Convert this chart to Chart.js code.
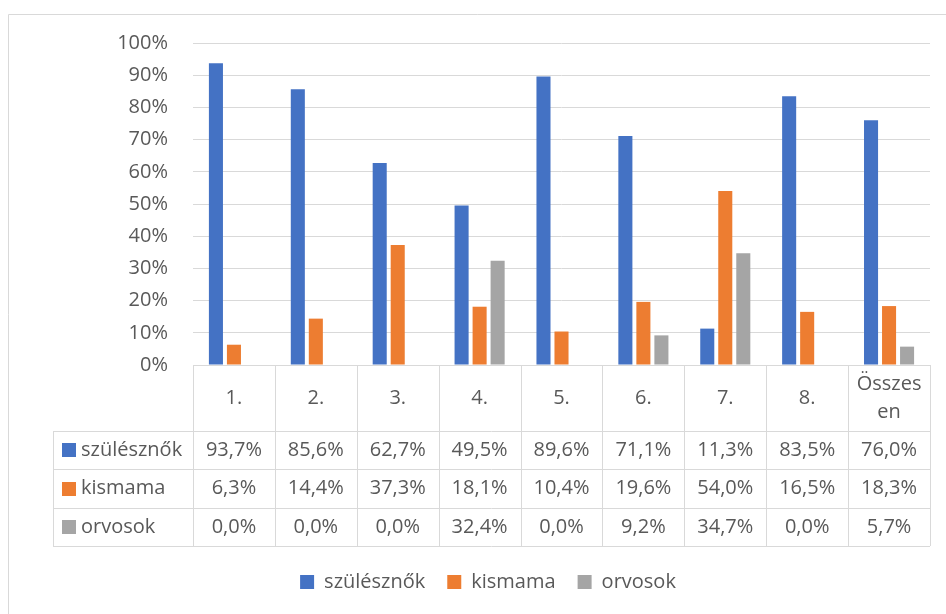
<!DOCTYPE html>
<html>
<head>
<meta charset="utf-8">
<script src="https://cdn.jsdelivr.net/npm/chart.js@4"></script>
<style>
  html, body { margin: 0; padding: 0; background: #fff; }
  #wrap { position: relative; width: 946px; height: 614px; }
</style>
</head>
<body>
<div id="wrap"><canvas id="chart" width="946" height="614"></canvas></div>
<script>
const categories = ['1.', '2.', '3.', '4.', '5.', '6.', '7.', '8.', 'Összesen'];
const szulesznok = [93.7, 85.6, 62.7, 49.5, 89.6, 71.1, 11.3, 83.5, 76.0];
const kismama = [6.3, 14.4, 37.3, 18.1, 10.4, 19.6, 54.0, 16.5, 18.3];
const orvosok = [0.0, 0.0, 0.0, 32.4, 0.0, 9.2, 34.7, 0.0, 5.7];
const yTicks = [0, 10, 20, 30, 40, 50, 60, 70, 80, 90, 100];

const textColor = '#595959';
const lineColor = '#d9d9d9';
const fontFamily = "'Open Sans', sans-serif";
const fontSize = 20;

const fmt = v => v.toFixed(1).replace('.', ',') + '%';

// wrap a label by characters when it is wider than the cell
function wrapText(c, text, maxW) {
  if (c.measureText(text).width <= maxW) return [text];
  const lines = [];
  let cur = '';
  for (const ch of text) {
    if (cur && c.measureText(cur + ch).width > maxW) {
      lines.push(cur);
      cur = ch;
    } else {
      cur += ch;
    }
  }
  if (cur) lines.push(cur);
  return lines;
}

// data table under the bars + outer frame
const dataTable = {
  id: 'dataTable',
  afterDraw(chart) {
    const c = chart.ctx;
    const x = chart.scales.x;
    const area = chart.chartArea;
    const n = categories.length;
    const colW = (area.right - area.left) / n;
    const top = area.bottom;
    const rows = [top, top + 66, top + 104, top + 143, top + 181];
    const tableLeft = 53;

    c.save();
    c.strokeStyle = lineColor;
    c.lineWidth = 1;

    // outer frame
    c.beginPath();
    c.moveTo(8.5, 614);
    c.lineTo(8.5, 14.5);
    c.lineTo(946, 14.5);
    c.stroke();

    c.beginPath();
    // horizontal lines
    c.moveTo(area.left, Math.round(rows[0]) + 0.5);
    c.lineTo(area.right, Math.round(rows[0]) + 0.5);
    for (let r = 1; r < rows.length; r++) {
      c.moveTo(tableLeft, Math.round(rows[r]) + 0.5);
      c.lineTo(area.right, Math.round(rows[r]) + 0.5);
    }
    // vertical lines
    c.moveTo(tableLeft + 0.5, rows[1]);
    c.lineTo(tableLeft + 0.5, rows[4]);
    for (let i = 0; i <= n; i++) {
      const px = Math.round(area.left + i * colW) + 0.5;
      c.moveTo(px, rows[0]);
      c.lineTo(px, rows[4]);
    }
    c.stroke();

    c.font = fontSize + 'px ' + fontFamily;
    c.fillStyle = textColor;
    c.textAlign = 'center';
    c.textBaseline = 'middle';

    // header row with category names
    categories.forEach((cat, i) => {
      const cx = x.getPixelForValue(i);
      const lines = wrapText(c, cat, colW - 12);
      const lh = 28;
      const cy = (rows[0] + rows[1]) / 2 - (lines.length - 1) * lh / 2;
      lines.forEach((ln, k) => c.fillText(ln, cx, cy + k * lh));
    });

    // one row per dataset
    chart.data.datasets.forEach((ds, r) => {
      const cy = (rows[r + 1] + rows[r + 2]) / 2;
      c.fillStyle = ds.backgroundColor;
      c.fillRect(62, Math.round(cy - 7), 14, 14);
      c.fillStyle = textColor;
      c.textAlign = 'left';
      c.fillText(ds.label, 81, cy);
      c.textAlign = 'center';
      ds.data.forEach((v, i) => {
        c.fillText(fmt(v), x.getPixelForValue(i), cy);
      });
    });
    c.restore();
  }
};

const ctx = document.getElementById('chart').getContext('2d');
const chart = new Chart(ctx, {
  type: 'bar',
  data: {
    labels: categories,
    datasets: [
      { label: 'szülésznők', data: szulesznok, backgroundColor: '#4472C4' },
      { label: 'kismama', data: kismama, backgroundColor: '#ED7D31' },
      { label: 'orvosok', data: orvosok, backgroundColor: '#A5A5A5' }
    ]
  },
  options: {
    responsive: false,
    animation: false,
    layout: { padding: { top: 43, left: 46, right: 16, bottom: 12 } },
    datasets: {
      bar: { categoryPercentage: 0.66, barPercentage: 0.78 }
    },
    scales: {
      x: {
        ticks: { display: false },
        grid: { display: false },
        border: { display: false },
        afterFit: s => { s.height = 185; }
      },
      y: {
        min: 0,
        max: 100,
        afterBuildTicks: s => { s.ticks = yTicks.map(v => ({ value: v })); },
        ticks: {
          padding: 25,
          color: textColor,
          font: { family: fontFamily, size: fontSize },
          callback: v => v + '%'
        },
        grid: { color: lineColor, drawTicks: false },
        border: { display: false },
        afterFit: s => { s.width = 147; }
      }
    },
    plugins: {
      tooltip: { enabled: false },
      legend: {
        position: 'bottom',
        labels: {
          boxWidth: 14,
          boxHeight: 14,
          padding: 22,
          color: textColor,
          font: { family: fontFamily, size: fontSize }
        }
      }
    }
  },
  plugins: [dataTable]
});
</script>
</body>
</html>
